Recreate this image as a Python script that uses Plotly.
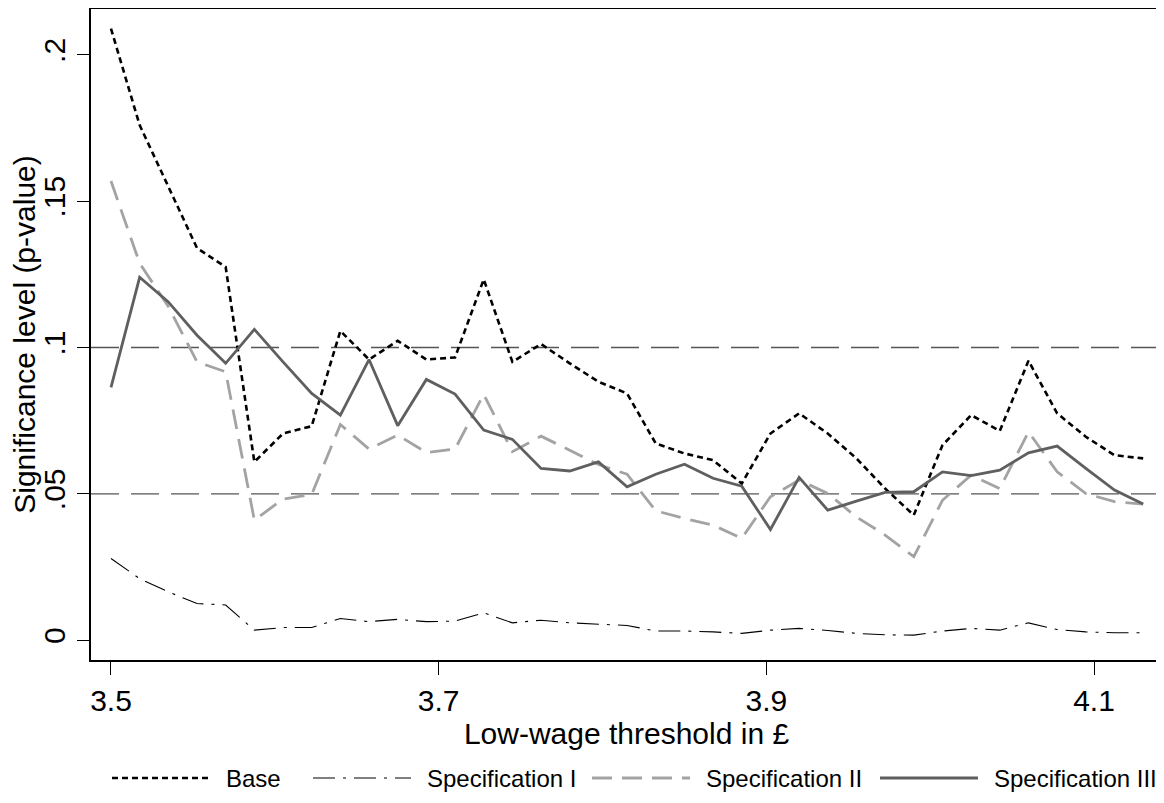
import plotly.graph_objects as go

thresholds = [3.5, 3.5175, 3.535, 3.5525, 3.57, 3.5875, 3.605, 3.6225, 3.64, 3.6575,
              3.675, 3.6925, 3.71, 3.7275, 3.745, 3.7625, 3.78, 3.7975, 3.815, 3.8325,
              3.85, 3.8675, 3.885, 3.9025, 3.92, 3.9375, 3.955, 3.9725, 3.99, 4.0075,
              4.025, 4.0425, 4.06, 4.0775, 4.095, 4.1125, 4.13]

base = [0.209, 0.176, 0.155, 0.134, 0.1275, 0.0609, 0.0706, 0.0731, 0.1057, 0.0959,
        0.1023, 0.0959, 0.0966, 0.1233, 0.0951, 0.1012, 0.0946, 0.0883, 0.0843, 0.0672,
        0.0638, 0.0615, 0.0535, 0.0706, 0.0775, 0.0706, 0.0621, 0.0518, 0.0427, 0.0666,
        0.0769, 0.0715, 0.0955, 0.0775, 0.0695, 0.0632, 0.0621]

spec1 = [0.0279, 0.0210, 0.0165, 0.0125, 0.0120, 0.0034, 0.0043, 0.0043, 0.0074, 0.0063,
         0.0071, 0.0063, 0.0065, 0.0093, 0.0059, 0.0068, 0.0059, 0.0055, 0.0050, 0.0031,
         0.0031, 0.0028, 0.0023, 0.0034, 0.0040, 0.0033, 0.0023, 0.0018, 0.0017, 0.0031,
         0.0040, 0.0034, 0.0059, 0.0036, 0.0028, 0.0025, 0.0025]

spec2 = [0.1569, 0.1288, 0.1140, 0.0951, 0.0917, 0.0410, 0.0482, 0.0498, 0.0737, 0.0653,
         0.0701, 0.0641, 0.0653, 0.0840, 0.0644, 0.0697, 0.0649, 0.0600, 0.0567, 0.0442,
         0.0416, 0.0393, 0.0348, 0.0490, 0.0547, 0.0501, 0.0421, 0.0359, 0.0285, 0.0478,
         0.0564, 0.0518, 0.0712, 0.0575, 0.0501, 0.0473, 0.0465]

spec3 = [0.0864, 0.1240, 0.1156, 0.1042, 0.0946, 0.1062, 0.0951, 0.0843, 0.0769, 0.0959,
         0.0733, 0.0891, 0.0841, 0.0718, 0.0686, 0.0587, 0.0578, 0.0609, 0.0524, 0.0567,
         0.0601, 0.0553, 0.0526, 0.0378, 0.0556, 0.0444, 0.0475, 0.0505, 0.0507, 0.0575,
         0.0562, 0.0581, 0.0640, 0.0663, 0.0587, 0.0513, 0.0465]

series_names = ["Base", "Specification I", "Specification II", "Specification III"]
ref_levels = [0.1, 0.05]
x_ticks = [3.5, 3.7, 3.9, 4.1]
x_tick_labels = ["3.5", "3.7", "3.9", "4.1"]
y_ticks = [0, 0.05, 0.1, 0.15, 0.2]
y_tick_labels = ["0", ".05", ".1", ".15", ".2"]

FONT = "Liberation Sans, Arial, Helvetica, sans-serif"
PAGE_OFF = 8                      # default body margin of the html page
W, H = 1164 - PAGE_OFF, 803 - 2 * PAGE_OFF
ML, MR, MT = 91 - PAGE_OFF, 2, 9 - PAGE_OFF
MB = H - (660 - PAGE_OFF)         # plot bottom at page y = 660
PW, PH = W - ML - MR, H - MT - MB

styles = [
    dict(color="#000000", width=2.6, dash="6px,4px"),
    dict(color="#000000", width=1.1, dash="22px,8px,3px,8px"),
    dict(color="#a3a3a3", width=2.8, dash="20px,10px"),
    dict(color="#5f5f5f", width=2.8, dash="solid"),
]

fig = go.Figure()
for name, vals, st in zip(series_names, [base, spec1, spec2, spec3], styles):
    fig.add_trace(go.Scatter(x=thresholds, y=vals, mode="lines", name=name, line=st,
                             showlegend=False))

for lvl in ref_levels:
    fig.add_hline(y=lvl, line=dict(color="#555555", width=1.3, dash="28px,12px"), layer="below")

# Legend drawn below the plot (long sample lines as in the original)
leg_line_start = [112, 313, 592, 880]   # page pixel positions
leg_line_len = 98
leg_text_gap = 14
leg_y_px = 778


def px_to_paper_x(px):
    return (px - PAGE_OFF - ML) / PW


def py_to_paper_y(py):
    return (H - MB - (py - PAGE_OFF)) / PH


ly = py_to_paper_y(leg_y_px)
for name, st, x0 in zip(series_names, styles, leg_line_start):
    fig.add_shape(type="line", xref="paper", yref="paper",
                  x0=px_to_paper_x(x0), x1=px_to_paper_x(x0 + leg_line_len), y0=ly, y1=ly,
                  line=dict(color=st["color"], width=st["width"], dash=st["dash"]))
    fig.add_annotation(xref="paper", yref="paper", x=px_to_paper_x(x0 + leg_line_len + leg_text_gap),
                       y=ly, text=name, showarrow=False, xanchor="left", yanchor="middle",
                       font=dict(size=24, family=FONT, color="black"))

fig.update_layout(
    width=W, height=H,
    margin=dict(l=ML, r=MR, t=MT, b=MB, autoexpand=False),
    paper_bgcolor="white", plot_bgcolor="white",
    font=dict(family=FONT, size=30, color="black"),
    showlegend=False,
    xaxis=dict(range=[3.4878, 4.1415], tickmode="array", tickvals=x_ticks, ticktext=x_tick_labels,
               ticks="outside", ticklen=13, tickwidth=1.2, tickcolor="black",
               tickfont=dict(size=30),
               showline=True, linecolor="black", linewidth=1.5, mirror=True,
               showgrid=False, zeroline=False, automargin=False,
               title=dict(text="Low-wage threshold in £", standoff=6, font=dict(size=30))),
    yaxis=dict(range=[-0.0068, 0.2157], tickmode="array", tickvals=y_ticks, ticktext=y_tick_labels,
               tickangle=-90, tickfont=dict(size=30),
               ticks="outside", ticklen=12, tickwidth=1.2, tickcolor="black",
               showline=True, linecolor="black", linewidth=1.5, mirror=True,
               showgrid=False, zeroline=False, automargin=False,
               title=dict(text="Significance level (p-value)", standoff=8, font=dict(size=30))),
)

fig.write_html("out.html")
